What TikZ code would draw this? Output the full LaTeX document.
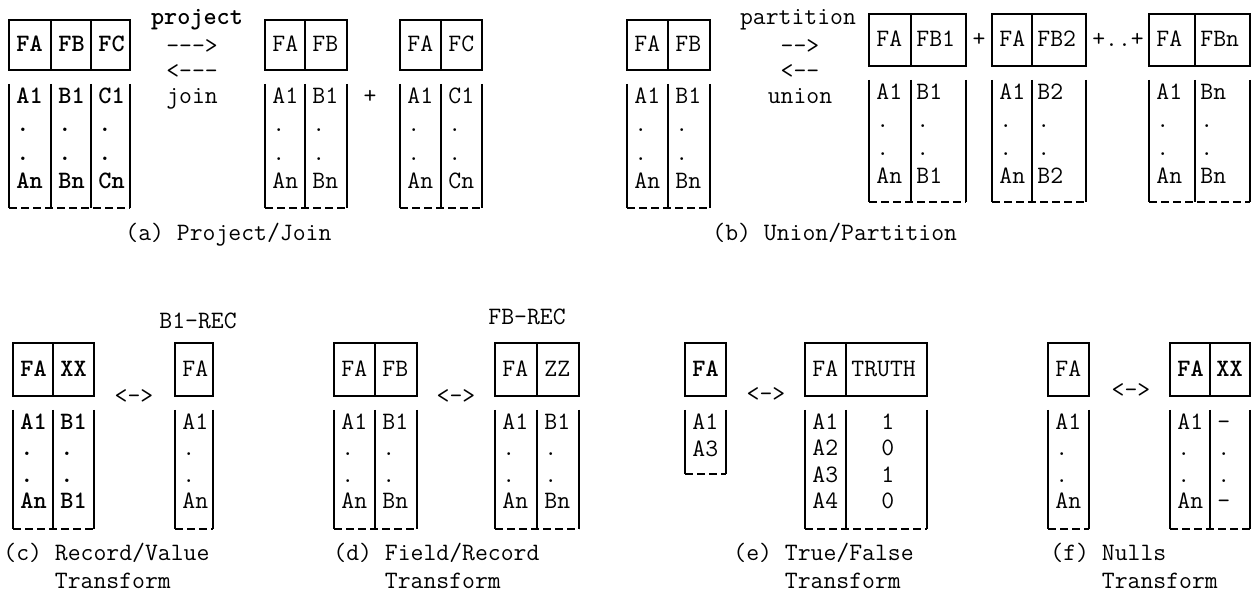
\documentclass[tikz,border=0pt]{standalone}
\usepackage{tikz}
\tikzstyle{rule} = [line width=0.9pt]
\tikzstyle{dashrule} = [line width=0.9pt,dash pattern=on 4pt off 2pt]
\tikzstyle{word} = [inner sep=0pt,text height=9pt,text depth=2.5pt,font=\ttfamily\fontsize{12.5}{15}\selectfont]
\tikzstyle{bword} = [word,font=\ttfamily\bfseries\fontsize{12.5}{15}\selectfont]
\tikzstyle{cell} = [word,anchor=west]
\tikzstyle{bcell} = [bword,anchor=west]
\tikzstyle{caption} = [word,anchor=west]

% header box: left, right, top, bottom
\newcommand{\HeadBox}[4]{\draw[rule] (#1,#3) rectangle (#2,#4);}
% open body with dashed foot: left, right, top, bottom
\newcommand{\BodyBox}[4]{\draw[rule] (#1,#3) -- (#1,#4) (#2,#3) -- (#2,#4); \draw[dashrule] (#1,#4) -- (#2,#4);}
% column divider: x, head top, head bottom, body top, body bottom
\newcommand{\ColLine}[5]{\draw[rule] (#1,#2) -- (#1,#3) (#1,#4) -- (#1,#5);}

\begin{document}
\begin{tikzpicture}[x=0.5pt,y=-0.5pt]
  \useasboundingbox (0,0) rectangle (1252,597);

  % (a) project / join
  \HeadBox{9}{130}{20}{70}
  \BodyBox{9}{130}{84}{208}
  \ColLine{51}{20}{70}{84}{208}
  \ColLine{91}{20}{70}{84}{208}
  \node[bcell] (a1h1) at (16,45) {FA}; \node[bcell] (a1h2) at (58,45) {FB}; \node[bcell] (a1h3) at (98,45) {FC};
  \node[bcell] (a1r1c1) at (16,97) {A1}; \node[bcell] (a1r1c2) at (58,97) {B1}; \node[bcell] (a1r1c3) at (98,97) {C1};
  \node[bcell] (a1r2c1) at (16,125) {.}; \node[bcell] (a1r2c2) at (58,125) {.}; \node[bcell] (a1r2c3) at (98,125) {.};
  \node[bcell] (a1r3c1) at (16,154) {.}; \node[bcell] (a1r3c2) at (58,154) {.}; \node[bcell] (a1r3c3) at (98,154) {.};
  \node[bcell] (a1r4c1) at (16,182) {An}; \node[bcell] (a1r4c2) at (58,182) {Bn}; \node[bcell] (a1r4c3) at (98,182) {Cn};

  \node[bword] (proj) at (197,18) {project};
  \node[word] (projarr) at (192,47) {--->};
  \node[word] (joinarr) at (192,72) {<---};
  \node[word] (join) at (192,97) {join};

  \HeadBox{265}{347}{20}{70}
  \BodyBox{265}{347}{84}{208}
  \ColLine{305}{20}{70}{84}{208}
  \node[cell] (a2h1) at (272,45) {FA}; \node[cell] (a2h2) at (312,45) {FB};
  \node[cell] (a2r1c1) at (272,97) {A1}; \node[cell] (a2r1c2) at (312,97) {B1};
  \node[cell] (a2r2c1) at (272,125) {.}; \node[cell] (a2r2c2) at (312,125) {.};
  \node[cell] (a2r3c1) at (272,154) {.}; \node[cell] (a2r3c2) at (312,154) {.};
  \node[cell] (a2r4c1) at (272,182) {An}; \node[cell] (a2r4c2) at (312,182) {Bn};

  \node[word] (plusA) at (370,97) {+};

  \HeadBox{400}{482}{20}{70}
  \BodyBox{400}{482}{84}{208}
  \ColLine{441}{20}{70}{84}{208}
  \node[cell] (a3h1) at (407,45) {FA}; \node[cell] (a3h2) at (448,45) {FC};
  \node[cell] (a3r1c1) at (407,97) {A1}; \node[cell] (a3r1c2) at (448,97) {C1};
  \node[cell] (a3r2c1) at (407,125) {.}; \node[cell] (a3r2c2) at (448,125) {.};
  \node[cell] (a3r3c1) at (407,154) {.}; \node[cell] (a3r3c2) at (448,154) {.};
  \node[cell] (a3r4c1) at (407,182) {An}; \node[cell] (a3r4c2) at (448,182) {Cn};

  \node[caption] (capA) at (125,234) {(a) Project/Join};

  % (b) union / partition
  \HeadBox{627}{710}{20}{70}
  \BodyBox{627}{710}{84}{208}
  \ColLine{668}{20}{70}{84}{208}
  \node[cell] (b1h1) at (634,45) {FA}; \node[cell] (b1h2) at (675,45) {FB};
  \node[cell] (b1r1c1) at (634,97) {A1}; \node[cell] (b1r1c2) at (675,97) {B1};
  \node[cell] (b1r2c1) at (634,125) {.}; \node[cell] (b1r2c2) at (675,125) {.};
  \node[cell] (b1r3c1) at (634,154) {.}; \node[cell] (b1r3c2) at (675,154) {.};
  \node[cell] (b1r4c1) at (634,182) {An}; \node[cell] (b1r4c2) at (675,182) {Bn};

  \node[word] (part) at (798,18) {partition};
  \node[word] (partarr) at (800,47) {-->};
  \node[word] (unionarr) at (800,72) {<--};
  \node[word] (union) at (800,97) {union};

  \HeadBox{869}{966}{14}{66}
  \BodyBox{869}{966}{80}{202}
  \ColLine{911}{14}{66}{80}{202}
  \node[cell] (b2h1) at (876,40) {FA}; \node[cell] (b2h2) at (916,40) {FB1};
  \node[cell] (b2r1c1) at (876,93) {A1}; \node[cell] (b2r1c2) at (916,93) {B1};
  \node[cell] (b2r2c1) at (876,121) {.}; \node[cell] (b2r2c2) at (916,121) {.};
  \node[cell] (b2r3c1) at (876,149) {.}; \node[cell] (b2r3c2) at (916,149) {.};
  \node[cell] (b2r4c1) at (876,177) {An}; \node[cell] (b2r4c2) at (916,177) {B1};

  \node[word] (plusB) at (979,40) {+};

  \HeadBox{992}{1086}{14}{66}
  \BodyBox{992}{1086}{80}{202}
  \ColLine{1032}{14}{66}{80}{202}
  \node[cell] (b3h1) at (999,40) {FA}; \node[cell] (b3h2) at (1037,40) {FB2};
  \node[cell] (b3r1c1) at (999,93) {A1}; \node[cell] (b3r1c2) at (1037,93) {B2};
  \node[cell] (b3r2c1) at (999,121) {.}; \node[cell] (b3r2c2) at (1037,121) {.};
  \node[cell] (b3r3c1) at (999,149) {.}; \node[cell] (b3r3c2) at (1037,149) {.};
  \node[cell] (b3r4c1) at (999,177) {An}; \node[cell] (b3r4c2) at (1037,177) {B2};

  \node[word] (plusdots) at (1118,40) {+..+};

  \HeadBox{1149}{1250}{14}{66}
  \BodyBox{1149}{1250}{80}{202}
  \ColLine{1195}{14}{66}{80}{202}
  \node[cell] (b4h1) at (1156,40) {FA}; \node[cell] (b4h2) at (1200,40) {FBn};
  \node[cell] (b4r1c1) at (1156,93) {A1}; \node[cell] (b4r1c2) at (1200,93) {Bn};
  \node[cell] (b4r2c1) at (1156,121) {.}; \node[cell] (b4r2c2) at (1200,121) {.};
  \node[cell] (b4r3c1) at (1156,149) {.}; \node[cell] (b4r3c2) at (1200,149) {.};
  \node[cell] (b4r4c1) at (1156,177) {An}; \node[cell] (b4r4c2) at (1200,177) {Bn};

  \node[caption] (capB) at (712,234) {(b) Union/Partition};

  % (c) record / value
  \node[word] (brec) at (198,322) {B1-REC};
  \HeadBox{13}{94}{343}{396}
  \BodyBox{13}{94}{410}{529}
  \ColLine{53}{343}{396}{410}{529}
  \node[bcell] (c1h1) at (20,370) {FA}; \node[bcell] (c1h2) at (60,370) {XX};
  \node[bcell] (c1r1c1) at (20,423) {A1}; \node[bcell] (c1r1c2) at (60,423) {B1};
  \node[bcell] (c1r2c1) at (20,449) {.}; \node[bcell] (c1r2c2) at (60,449) {.};
  \node[bcell] (c1r3c1) at (20,476) {.}; \node[bcell] (c1r3c2) at (60,476) {.};
  \node[bcell] (c1r4c1) at (20,502) {An}; \node[bcell] (c1r4c2) at (60,502) {B1};

  \node[word] (cswap) at (134,397) {<->};

  \HeadBox{175}{213}{343}{396}
  \BodyBox{175}{213}{410}{529}
  \node[cell] (c2h1) at (182,370) {FA};
  \node[cell] (c2r1c1) at (182,423) {A1};
  \node[cell] (c2r2c1) at (182,449) {.};
  \node[cell] (c2r3c1) at (182,476) {.};
  \node[cell] (c2r4c1) at (182,502) {An};

  \node[caption] (capC) at (3,554) {(c) Record/Value};
  \node[caption] (capC2) at (3,582) {\phantom{(c) }Transform};

  % (d) field / record
  \node[word] (fbrec) at (527,318) {FB-REC};
  \HeadBox{334}{417}{343}{396}
  \BodyBox{334}{417}{410}{529}
  \ColLine{375}{343}{396}{410}{529}
  \node[cell] (d1h1) at (341,370) {FA}; \node[cell] (d1h2) at (382,370) {FB};
  \node[cell] (d1r1c1) at (341,423) {A1}; \node[cell] (d1r1c2) at (382,423) {B1};
  \node[cell] (d1r2c1) at (341,449) {.}; \node[cell] (d1r2c2) at (382,449) {.};
  \node[cell] (d1r3c1) at (341,476) {.}; \node[cell] (d1r3c2) at (382,476) {.};
  \node[cell] (d1r4c1) at (341,502) {An}; \node[cell] (d1r4c2) at (382,502) {Bn};

  \node[word] (dswap) at (456,397) {<->};

  \HeadBox{495}{579}{343}{396}
  \BodyBox{495}{579}{410}{529}
  \ColLine{537}{343}{396}{410}{529}
  \node[cell] (d2h1) at (502,370) {FA}; \node[cell] (d2h2) at (544,370) {ZZ};
  \node[cell] (d2r1c1) at (502,423) {A1}; \node[cell] (d2r1c2) at (544,423) {B1};
  \node[cell] (d2r2c1) at (502,449) {.}; \node[cell] (d2r2c2) at (544,449) {.};
  \node[cell] (d2r3c1) at (502,476) {.}; \node[cell] (d2r3c2) at (544,476) {.};
  \node[cell] (d2r4c1) at (502,502) {An}; \node[cell] (d2r4c2) at (544,502) {Bn};

  \node[caption] (capD) at (333,554) {(d) Field/Record};
  \node[caption] (capD2) at (333,582) {\phantom{(d) }Transform};

  % (e) true / false
  \HeadBox{685}{726}{343}{396}
  \BodyBox{685}{726}{410}{474}
  \node[bcell] (e1h1) at (692,370) {FA};
  \node[cell] (e1r1c1) at (692,423) {A1};
  \node[cell] (e1r2c1) at (692,450) {A3};

  \node[word] (eswap) at (766,395) {<->};

  \HeadBox{805}{927}{343}{396}
  \BodyBox{805}{927}{410}{529}
  \ColLine{846}{343}{396}{410}{529}
  \node[cell] (e2h1) at (812,370) {FA}; \node[cell] (e2h2) at (851,370) {TRUTH};
  \node[cell] (e2r1c1) at (812,423) {A1}; \node[cell] (e2r1c2) at (881,423) {1};
  \node[cell] (e2r2c1) at (812,449) {A2}; \node[cell] (e2r2c2) at (881,449) {0};
  \node[cell] (e2r3c1) at (812,476) {A3}; \node[cell] (e2r3c2) at (881,476) {1};
  \node[cell] (e2r4c1) at (812,502) {A4}; \node[cell] (e2r4c2) at (881,502) {0};

  \node[caption] (capE) at (733,554) {(e) True/False};
  \node[caption] (capE2) at (733,582) {\phantom{(e) }Transform};

  % (f) nulls
  \HeadBox{1048}{1089}{343}{396}
  \BodyBox{1048}{1089}{410}{529}
  \node[cell] (f1h1) at (1055,370) {FA};
  \node[cell] (f1r1c1) at (1055,423) {A1};
  \node[cell] (f1r2c1) at (1055,449) {.};
  \node[cell] (f1r3c1) at (1055,476) {.};
  \node[cell] (f1r4c1) at (1055,502) {An};

  \node[word] (fswap) at (1131,391) {<->};

  \HeadBox{1170}{1250}{343}{396}
  \BodyBox{1170}{1250}{410}{529}
  \ColLine{1210}{343}{396}{410}{529}
  \node[bcell] (f2h1) at (1177,370) {FA}; \node[bcell] (f2h2) at (1216,370) {XX};
  \node[cell] (f2r1c1) at (1177,423) {A1}; \node[cell] (f2r1c2) at (1217,423) {-};
  \node[cell] (f2r2c1) at (1177,449) {.}; \node[cell] (f2r2c2) at (1217,449) {.};
  \node[cell] (f2r3c1) at (1177,476) {.}; \node[cell] (f2r3c2) at (1217,476) {.};
  \node[cell] (f2r4c1) at (1177,502) {An}; \node[cell] (f2r4c2) at (1217,502) {-};

  \node[caption] (capF) at (1050,554) {(f) Nulls};
  \node[caption] (capF2) at (1050,582) {\phantom{(f) }Transform};
\end{tikzpicture}
\end{document}
